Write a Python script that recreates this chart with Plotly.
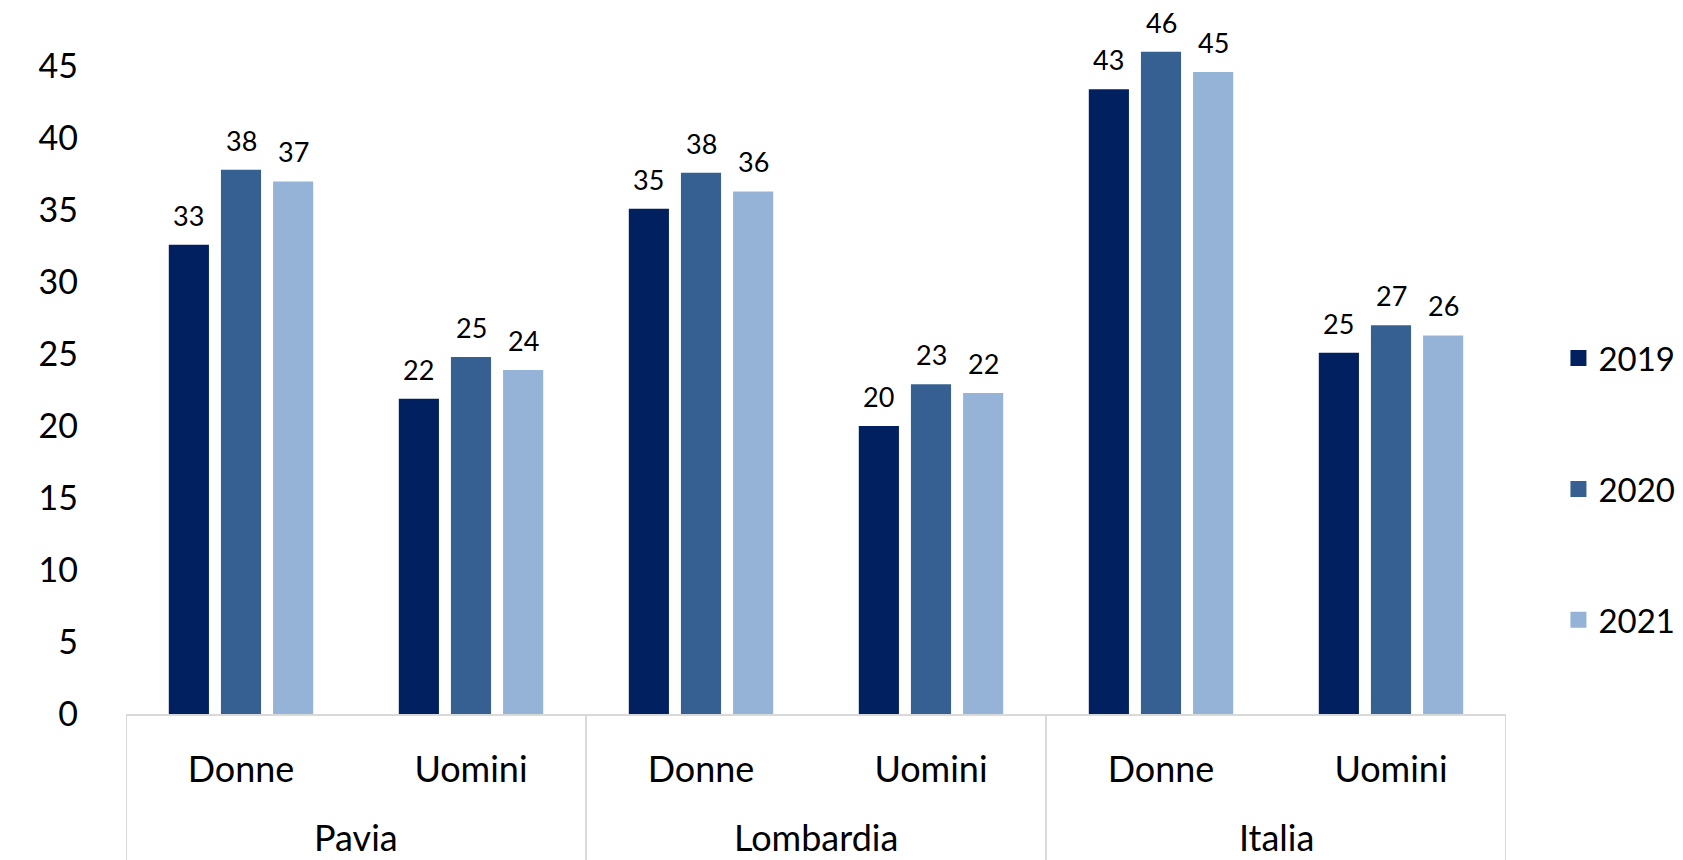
import plotly.graph_objects as go

regions = ["Pavia", "Lombardia", "Italia"]
genders = ["Donne", "Uomini", "Donne", "Uomini", "Donne", "Uomini"]

years = ["2019", "2020", "2021"]
v2019 = [32.6, 21.9, 35.1, 20.0, 43.4, 25.1]
v2020 = [37.8, 24.8, 37.6, 22.9, 46.0, 27.0]
v2021 = [37.0, 23.9, 36.3, 22.3, 44.6, 26.3]
colors = ["#002060", "#376092", "#95B3D7"]

font = "Lato, 'Open Sans', sans-serif"
grey = "#D9D9D9"
bargap = 0.32
xs = list(range(len(genders)))
per_region = len(genders) // len(regions)

fig = go.Figure()
for name, vals, col in zip(years, [v2019, v2020, v2021], colors):
    fig.add_trace(go.Bar(
        x=xs, y=vals, name=name, showlegend=False,
        marker=dict(color=col, line=dict(width=0)),
    ))
    # legend entry with a bigger square swatch
    fig.add_trace(go.Scatter(
        x=[None], y=[None], name=name, mode="markers", legendgroup=name,
        marker=dict(symbol="square", size=16, color=col),
    ))

# value labels above each bar
slot = (1 - bargap) / len(years)
for i, vals in enumerate([v2019, v2020, v2021]):
    for j, v in enumerate(vals):
        fig.add_annotation(
            x=xs[j] + (i - 1) * slot, y=v, text=f"{v:.0f}", showarrow=False,
            yanchor="bottom", yshift=11,
            font=dict(size=27, color="#000000", family=font),
        )

# outer category labels and box lines
for k, reg in enumerate(regions):
    centre = k * per_region + (per_region - 1) / 2
    fig.add_annotation(
        x=centre, y=-0.172, yref="paper", text=reg, showarrow=False,
        yanchor="middle", font=dict(size=36, color="#000000", family=font),
    )
for k in range(len(regions) + 1):
    xb = k * per_region - 0.5
    fig.add_shape(type="line", x0=xb, x1=xb, y0=0, y1=-0.21, yref="paper",
                  line=dict(color=grey, width=2))

fig.update_layout(
    width=1683, height=860,
    margin=dict(l=126, r=177, t=0, b=146),
    paper_bgcolor="white", plot_bgcolor="white",
    barmode="group", bargap=bargap, bargroupgap=0.23,
    font=dict(family=font, size=34, color="#000000"),
    legend=dict(x=1.038, xanchor="left", y=0.315, yanchor="middle",
                tracegroupgap=85, font=dict(size=33)),
)
fig.update_yaxes(range=[0, 49.6], tickvals=list(range(0, 50, 5)),
                 showgrid=False, zeroline=False, showline=False,
                 ticklabelstandoff=47, tickfont=dict(size=34))
fig.update_xaxes(range=[-0.5, len(genders) - 0.5], tickvals=xs, ticktext=genders,
                 showline=True, linecolor=grey, linewidth=2, ticks="",
                 ticklabelstandoff=23, tickfont=dict(size=36), showgrid=False,
                 zeroline=False)

fig.write_html("out.html", config={"displayModeBar": False},
               post_script="document.body.style.margin = '0';")
